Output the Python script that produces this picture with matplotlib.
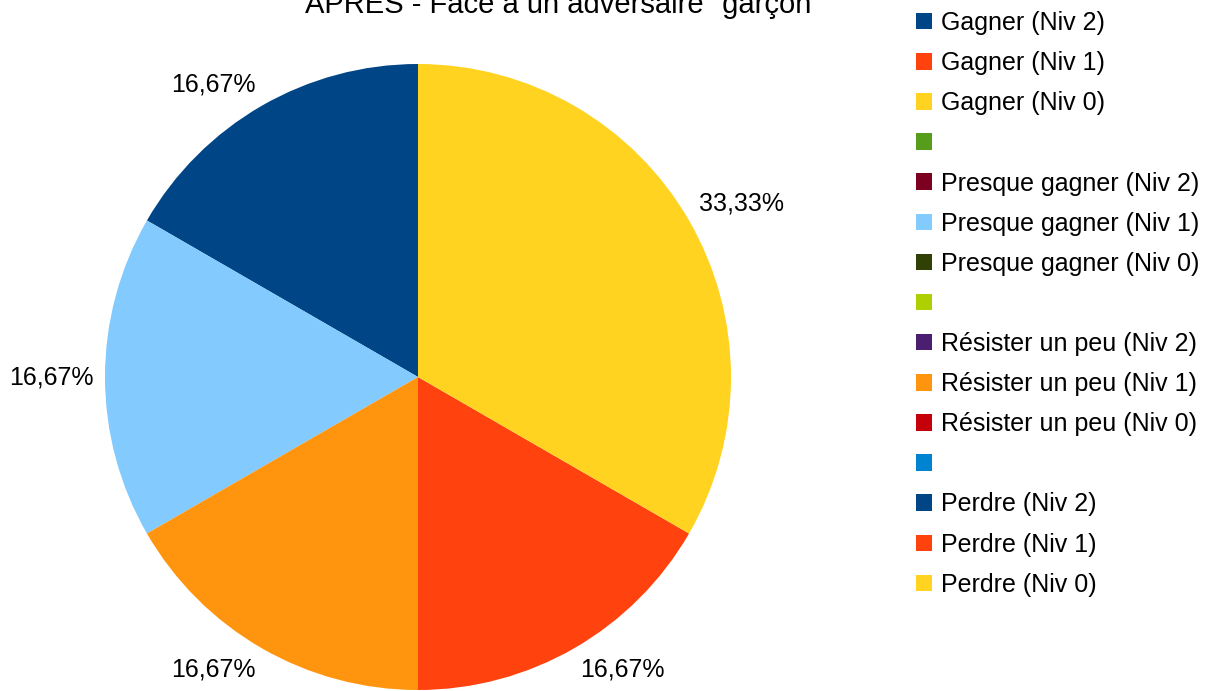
import numpy as np
import matplotlib.pyplot as plt

plt.rcParams['font.family'] = ['Liberation Sans', 'DejaVu Sans']

# categories (legend order) and counts
categories = [
    "Gagner (Niv 2)", "Gagner (Niv 1)", "Gagner (Niv 0)", "",
    "Presque gagner (Niv 2)", "Presque gagner (Niv 1)", "Presque gagner (Niv 0)", "",
    "Résister un peu (Niv 2)", "Résister un peu (Niv 1)", "Résister un peu (Niv 0)", "",
    "Perdre (Niv 2)", "Perdre (Niv 1)", "Perdre (Niv 0)",
]
values = [1, 0, 0, 0, 0, 1, 0, 0, 0, 1, 0, 0, 0, 1, 2]
colors = [
    "#004586", "#ff420e", "#ffd320", "#579d1c", "#7e0021", "#83caff",
    "#314004", "#aecf00", "#4b1f6f", "#ff950e", "#c5000b", "#0084d1",
    "#004586", "#ff420e", "#ffd320",
]
title = 'APRES - Face à un adversaire "garçon"'

W, H = 1205, 691
fig = plt.figure(figsize=(W / 100, H / 100), dpi=100)

# pie: center (418, 377), radius 313 px
cx, cy, r = 418, 377, 313
ax = fig.add_axes([(cx - r) / W, (H - cy - r) / H, 2 * r / W, 2 * r / H])


def fmt_pct(p):
    if p < 0.01:
        return ""
    return f"{p:.2f}%".replace(".", ",")


wedges, texts, autotexts = ax.pie(
    values, colors=colors, startangle=90, counterclock=True,
    autopct=fmt_pct, radius=1,
    textprops={"fontsize": 18, "color": "black"},
)

# move the percentages just outside the rim, anchored by the nearest corner
for w, t in zip(wedges, autotexts):
    ang = np.deg2rad((w.theta1 + w.theta2) / 2)
    c, s = np.cos(ang), np.sin(ang)
    t.set_position((1.035 * c, 1.035 * s))
    t.set_ha("left" if c > 0.1 else ("right" if c < -0.1 else "center"))
    t.set_va("bottom" if s > 0.1 else ("top" if s < -0.1 else "center"))

ax.set_xlim(-1, 1)
ax.set_ylim(-1, 1)
ax.set_aspect("equal")
ax.axis("off")

fig.text(563 / W, 1 - 13 / H, title, ha="center", va="baseline", fontsize=21)

fig.legend(
    wedges, categories, loc="upper left",
    bbox_to_anchor=(916 / W, 1 - 11 / H), frameon=False, fontsize=18,
    handlelength=0.64, handleheight=0.64, handletextpad=0.36,
    labelspacing=0.645, borderpad=0, borderaxespad=0,
)

fig.savefig("out.png", dpi=100)
